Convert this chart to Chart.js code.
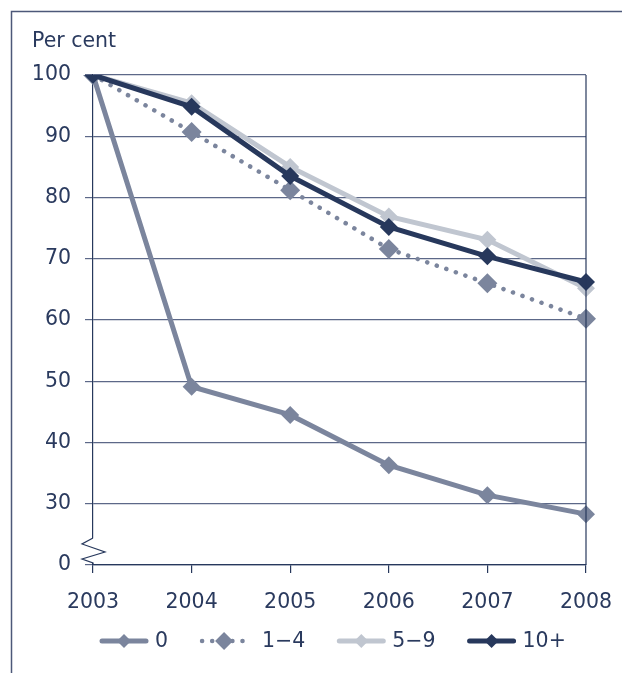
<!DOCTYPE html>
<html>
<head>
<meta charset="utf-8">
<script src="https://cdn.jsdelivr.net/npm/chart.js@4"></script>
<style>
  html, body { margin: 0; padding: 0; background: #fff; }
  #wrap { width: 622px; height: 673px; }
</style>
</head>
<body>
<div id="wrap"><canvas id="chart" width="622" height="673"></canvas></div>
<script>
// data (per cent of 2003 level)
const years = ['2003', '2004', '2005', '2006', '2007', '2008'];
const seriesNames = ['0', '1\u22124', '5\u22129', '10+'];
const s0 = [100, 49.1, 44.5, 36.3, 31.4, 28.3];
const s1to4 = [100, 90.7, 81.2, 71.6, 66.0, 60.2];
const s5to9 = [100, 95.4, 85.0, 76.9, 73.1, 65.2];
const s10plus = [100, 94.8, 83.5, 75.2, 70.4, 66.2];
const yTicks = [20, 30, 40, 50, 60, 70, 80, 90, 100]; // 20 is shown as "0" (broken axis)

const navy = '#27385c';
const textCol = '#2a3a5e';
const font = { family: '"DejaVu Sans", Verdana, sans-serif', size: 20.5 };

const colors = ['#7b859d', '#7b859d', '#c0c6d0', '#27385c'];

function ds(label, data, i, extra) {
    return Object.assign({
        label: label,
        data: data,
        borderColor: colors[i],
        backgroundColor: colors[i],
        borderWidth: 5,
        pointStyle: 'rectRot',
        pointRadius: 9,
        pointBorderWidth: 0,
        pointBackgroundColor: colors[i],
        tension: 0,
        order: 3 - i
    }, extra || {});
}

const extras = {
    id: 'extras',
    afterDraw(chart) {
        const ctx = chart.ctx;
        const a = chart.chartArea;
        const y = chart.scales.y;
        ctx.save();

        // outer frame (left + top)
        ctx.strokeStyle = '#4d5879';
        ctx.lineWidth = 1.5;
        ctx.beginPath();
        ctx.moveTo(11.5, 673);
        ctx.lineTo(11.5, 11.5);
        ctx.lineTo(622, 11.5);
        ctx.stroke();

        // right border of plot
        ctx.strokeStyle = navy;
        ctx.lineWidth = 1.2;
        ctx.beginPath();
        ctx.moveTo(a.right, a.top);
        ctx.lineTo(a.right, a.bottom);
        ctx.stroke();

        // axis title
        ctx.fillStyle = textCol;
        ctx.font = '20.5px "DejaVu Sans", Verdana, sans-serif';
        ctx.textBaseline = 'middle';
        ctx.textAlign = 'left';
        ctx.fillText('Per cent', 32, 42);

        // axis break zigzag between 0 and 30
        const x0 = a.left;
        const yb = y.getPixelForValue(20);
        ctx.fillStyle = '#fff';
        ctx.fillRect(x0 - 3, yb - 27, 6, 25);
        ctx.strokeStyle = navy;
        ctx.lineWidth = 1.2;
        ctx.beginPath();
        ctx.moveTo(x0, yb - 27);
        ctx.lineTo(x0 - 11, yb - 21);
        ctx.lineTo(x0 + 12, yb - 13);
        ctx.lineTo(x0 - 11, yb - 6);
        ctx.lineTo(x0, yb - 2);
        ctx.lineTo(x0, yb);
        ctx.stroke();

        // legend
        const ly = 641;
        let lx = 100;
        chart.data.datasets.forEach((d) => {
            const w = 48;
            const gap = d.borderDash ? 14 : 7;
            ctx.strokeStyle = d.borderColor;
            ctx.fillStyle = d.borderColor;
            ctx.lineWidth = d.borderDash ? 4.5 : 5;
            ctx.lineCap = 'round';
            ctx.setLineDash(d.borderDash ? [0.1, 10] : []);
            ctx.beginPath();
            ctx.moveTo(lx + 2, ly);
            ctx.lineTo(lx + w - 2, ly);
            ctx.stroke();
            ctx.setLineDash([]);
            const cx = lx + w / 2;
            const r = d.borderDash ? 9 : 7;
            ctx.beginPath();
            ctx.moveTo(cx, ly - r);
            ctx.lineTo(cx + r, ly);
            ctx.lineTo(cx, ly + r);
            ctx.lineTo(cx - r, ly);
            ctx.closePath();
            ctx.fill();
            ctx.fillStyle = textCol;
            ctx.fillText(d.label, lx + w + gap, ly + 1);
            lx += w + gap + ctx.measureText(d.label).width + 32;
        });
        ctx.restore();
    }
};

new Chart(document.getElementById('chart'), {
    type: 'line',
    data: {
        labels: years,
        datasets: [
            ds(seriesNames[0], s0, 0),
            ds(seriesNames[1], s1to4, 1, { borderDash: [0.1, 10], borderCapStyle: 'round', borderWidth: 4.5, pointRadius: 10 }),
            ds(seriesNames[2], s5to9, 2),
            ds(seriesNames[3], s10plus, 3)
        ]
    },
    options: {
        responsive: false,
        animation: false,
        layout: { autoPadding: false, padding: { top: 75, right: 36, left: 0, bottom: 0 } },
        plugins: {
            legend: { display: false },
            tooltip: { enabled: false }
        },
        scales: {
            x: {
                offset: false,
                afterFit: (s) => { s.height = 108; s.paddingLeft = 0; s.paddingRight = 0; },
                grid: { drawOnChartArea: false, tickLength: 8, color: navy, lineWidth: 1.2 },
                border: { color: navy, width: 1.2 },
                ticks: { font: font, color: textCol, padding: 17, maxRotation: 0 }
            },
            y: {
                min: 20,
                max: 100,
                afterFit: (s) => { s.width = 93; s.paddingTop = 0; s.paddingBottom = 0; },
                afterBuildTicks: (s) => { s.ticks = yTicks.map(v => ({ value: v })); },
                grid: { color: '#5c6888', lineWidth: 1.2, tickLength: 8 },
                border: { color: navy, width: 1.2 },
                ticks: {
                    font: font,
                    color: textCol,
                    padding: 14,
                    callback: (v) => v === 20 ? '0' : String(v)
                }
            }
        }
    },
    plugins: [extras]
});
</script>
</body>
</html>
